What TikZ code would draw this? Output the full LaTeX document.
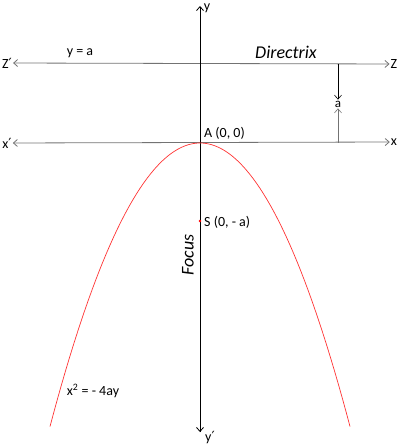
\documentclass[tikz,border=0pt]{standalone}
\usepackage{fontspec}
\setmainfont{Carlito}
\newfontfamily\primefont{DejaVu Sans}
\newcommand\pr{{\primefont\fontsize{14}{16}\selectfont ′}}
\usetikzlibrary{arrows.meta}
\tikzset{
  tip/.style={-{Straight Barb[length=4pt,width=7pt]}},
  axis/.style={draw=gray!90!black, line width=0.8pt},
  lab/.style={inner sep=1pt},
}
\begin{document}
\begin{tikzpicture}[x=1pt,y=-1pt,font=\fontsize{14}{16}\selectfont]
\useasboundingbox (0,0) rectangle (400,446);
\pgfmathsetmacro\k{1.26};
\coordinate (A) at (200,143);
\coordinate (S) at (200,221);
\coordinate (ytop) at (200,6);
\coordinate (ybot) at (200,432);
\node[lab] (zl) at (7,63) {Z\pr};
\node[lab] (zr) at (394,64) {Z};
\node[lab] (xl) at (7,143) {x\pr};
\node[lab] (xr) at (394,142) {x};
\draw[axis, {Straight Barb[length=4pt,width=7pt]}-{Straight Barb[length=4pt,width=7pt]}] (zl) -- (zr);
\draw[axis, {Straight Barb[length=4pt,width=7pt]}-{Straight Barb[length=4pt,width=7pt]}] (xl) -- (xr);
\draw[tip, line width=0.8pt] (ybot) -- (ytop);
\draw[tip, line width=0.8pt] (A) -- (ybot);
\node[lab] (ylab) at (207,8) {y};
\node[lab] (yblab) at (210,438) {y\pr};
\node[lab] (dirx) at (80,53) {y = a};
\node[lab, font=\fontsize{18}{20}\selectfont] (dirname) at (286,52) {\itshape Directrix};
\coordinate (dtop) at (338,64);
\coordinate (dbot) at (338,143);
\node[lab, font=\fontsize{13}{15}\selectfont] (alab) at (338,104) {a};
\draw[tip, line width=0.6pt] (dtop) -- (alab.north);
\draw[tip, draw=gray!90!black, line width=0.6pt] (dbot) -- (alab.south);
\draw[red!80!white, line width=0.7pt] plot[domain=-150:150, samples=81] ({200+\x},{143+\k*(\x/10)*(\x/10)});
\fill[red] (S) circle (1.3pt);
\node[lab, anchor=south west] (Alab) at (203,141) {A (0, 0)};
\node[lab, anchor=west] (Slab) at (203,222) {S (0, - a)};
\node[lab, rotate=90, font=\fontsize{18}{20}\selectfont] (focus) at (188,255) {\itshape Focus};
\node[lab] (eq) at (93,391) {x\textsuperscript{2} = - 4ay};
\end{tikzpicture}
\end{document}
